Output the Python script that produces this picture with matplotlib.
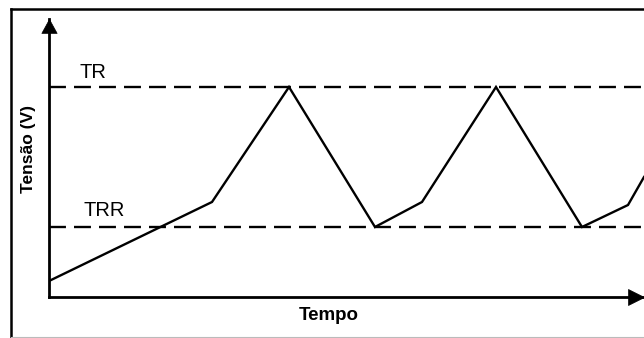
import matplotlib
matplotlib.use('Agg')
import matplotlib.pyplot as plt
from matplotlib.lines import Line2D

plt.rcParams['font.family'] = ['Liberation Sans', 'DejaVu Sans']
plt.rcParams['lines.scale_dashes'] = False

# Data (arbitrary units)
tempo = [0, 16.3, 24.0, 32.6, 37.3, 44.7, 53.3, 57.9, 59.5]
tensao = [1.6, 9.5, 21.0, 7.0, 9.5, 21.0, 7.0, 9.2, 12.0]
nivel_tr = 21.0
nivel_trr = 7.0
rotulos = ['TR', 'TRR']
titulo_x = 'Tempo'
titulo_y = 'Tensão (V)'

W, H = 644, 338
fig = plt.figure(figsize=(W / 100, H / 100), dpi=100)
fig.patch.set_facecolor('white')
ax = fig.add_axes([49 / W, 41 / H, 595 / W, 278 / H])
ax.set_xlim(0, 59.5)
ax.set_ylim(0, 27.8)
ax.set_xticks([])
ax.set_yticks([])
for s in ['top', 'right']:
    ax.spines[s].set_visible(False)
for s in ['left', 'bottom']:
    ax.spines[s].set_linewidth(2.0)
    ax.spines[s].set_color('black')

# threshold lines
for lvl in (nivel_tr, nivel_trr):
    ax.axhline(lvl, color='black', lw=1.7, dashes=(12.2, 5.8))

# signal
ax.plot(tempo, tensao, color='black', lw=1.7, solid_joinstyle='miter')

# labels of levels
ax.text(3.0, 21.9, rotulos[0], fontsize=14.5, ha='left', va='baseline')
ax.text(3.4, 8.1, rotulos[1], fontsize=14.5, ha='left', va='baseline')

# axis arrow heads
ax.plot([0], [1], transform=ax.transAxes, clip_on=False, color='black',
        marker=[(0, 0), (-0.55, -1), (0.55, -1), (0, 0)], ms=20, mew=0.5)
ax.plot([1], [0], transform=ax.transAxes, clip_on=False, color='black',
        marker=[(0, 0), (-1, 0.5), (-1, -0.5), (0, 0)], ms=23, mew=0.5)

# axis titles
fig.text(328.5 / W, 1 - 320 / H, titulo_x, ha='center', va='baseline',
         fontsize=13.5, fontweight='bold')
fig.text(29 / W, 1 - 149 / H, titulo_y, rotation=90, ha='center', va='center',
         fontsize=12.5, fontweight='bold')

# outer frame
fig.add_artist(Line2D([11 / W, 11 / W], [0, 1 - 9 / H], color='black', lw=1.8))
fig.add_artist(Line2D([11 / W, 1], [1 - 9 / H, 1 - 9 / H], color='black', lw=1.8))
fig.add_artist(Line2D([11 / W, 1], [1.5 / H, 1.5 / H], color='#bbbbbb', lw=0.8))

fig.savefig('out.png', dpi=100)
